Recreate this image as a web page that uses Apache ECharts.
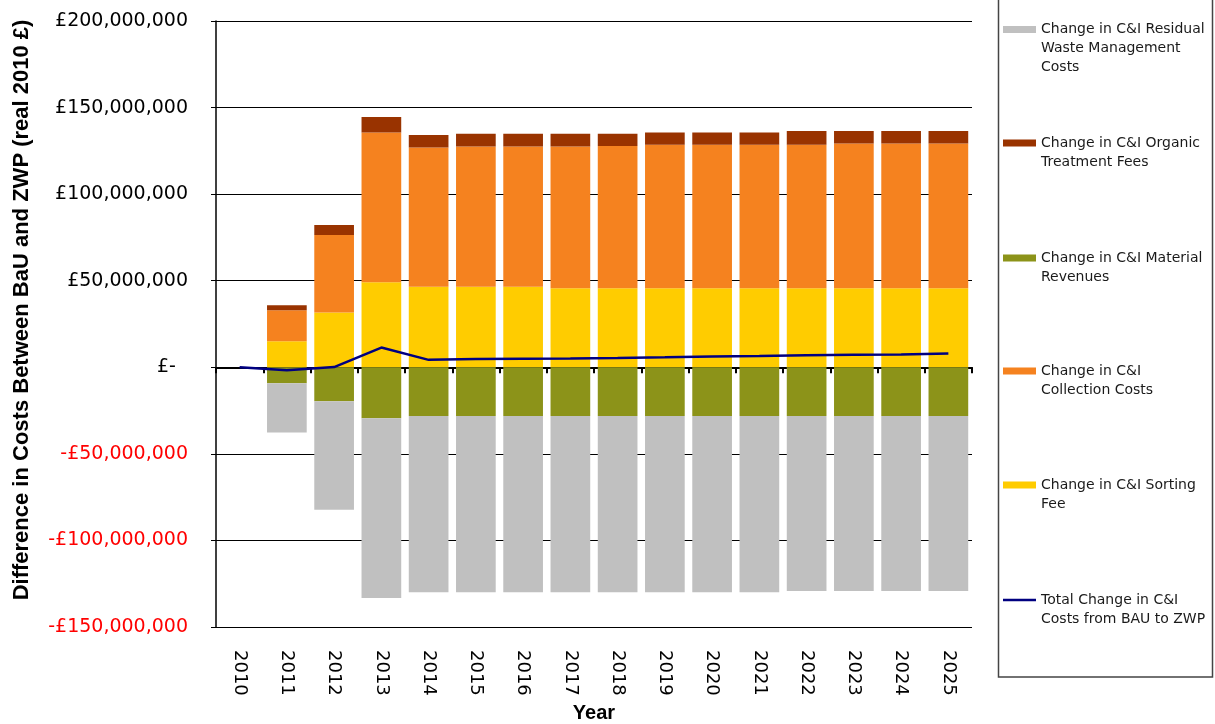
<!DOCTYPE html>
<html>
<head>
<meta charset="utf-8">
<script src="https://cdn.jsdelivr.net/npm/echarts@6/dist/echarts.min.js"></script>
<style>
  html, body { margin: 0; padding: 0; background: #ffffff; }
  #chart { width: 1215px; height: 724px; }
</style>
</head>
<body>
<div id="chart"></div>
<script>
// Years on the category axis
const years = ['2010', '2011', '2012', '2013', '2014', '2015', '2016', '2017',
               '2018', '2019', '2020', '2021', '2022', '2023', '2024', '2025'];

// Cost differences between BaU and ZWP, in £ million (real 2010 prices)
const sortingFee = [0, 15.1, 31.7, 49.1, 46.5, 46.5, 46.5, 45.6, 45.6, 45.6, 45.6, 45.6, 45.6, 45.6, 45.6, 45.6];
const collectionCosts = [0, 17.9, 44.7, 86.5, 80.5, 81.0, 81.0, 81.9, 82.2, 82.9, 82.9, 82.9, 82.9, 83.7, 83.7, 83.7];
const organicFees = [0, 2.9, 5.8, 9.0, 7.1, 7.4, 7.4, 7.4, 7.1, 7.1, 7.1, 7.1, 7.9, 7.1, 7.1, 7.1];
const materialRevenues = [0, -9.2, -19.6, -29.5, -28.1, -28.2, -28.2, -28.2, -28.2, -28.2, -28.2, -28.2, -28.2, -28.2, -28.2, -28.2];
const residualCosts = [0, -28.4, -62.7, -103.7, -101.8, -101.8, -101.8, -101.8, -101.8, -101.8, -101.8, -101.8, -101.0, -101.0, -101.0, -101.0];
const totalChange = [0, -1.7, 0.1, 11.4, 4.3, 4.8, 5.0, 5.1, 5.4, 5.8, 6.3, 6.5, 7.0, 7.2, 7.4, 8.0];

// Value axis ticks, £ million
const yMin = -150, yMax = 200, yStep = 50;

const names = {
  residual: 'Change in C&I Residual Waste Management Costs',
  organic: 'Change in C&I Organic Treatment Fees',
  material: 'Change in C&I Material Revenues',
  collection: 'Change in C&I Collection Costs',
  sorting: 'Change in C&I Sorting Fee',
  total: 'Total Change in C&I Costs from BAU to ZWP'
};
const legendText = {
  [names.residual]: 'Change in C&I Residual\nWaste Management\nCosts',
  [names.organic]: 'Change in C&I Organic\nTreatment Fees',
  [names.material]: 'Change in C&I Material\nRevenues',
  [names.collection]: 'Change in C&I\nCollection Costs',
  [names.sorting]: 'Change in C&I Sorting\nFee',
  [names.total]: 'Total Change in C&I\nCosts from BAU to ZWP'
};
const colors = {
  residual: '#C0C0C0',
  organic: '#993300',
  material: '#8C9319',
  collection: '#F5821F',
  sorting: '#FFCC00',
  total: '#000080'
};

const FONT = 'DejaVu Sans, Verdana, sans-serif';

function money(v) {
  if (v === 0) return '£-  ';
  const s = Math.round(Math.abs(v) * 1e6).toLocaleString('en-GB');
  return (v < 0 ? '-£' : '£') + s;
}

// One legend block per series so each key can sit at its own height.
// Blank lines before the text keep the symbol level with the first text line.
const LH = 19;
function legendBlock(name, centerY, isLine) {
  const n = legendText[name].split('\n').length;
  const blockH = (2 * n - 1) * LH;
  return {
    show: true,
    data: [{ name: name, icon: 'rect' }],
    left: 1003,
    top: centerY - blockH / 2,
    orient: 'vertical',
    padding: 0,
    itemWidth: 33,
    itemHeight: isLine ? 2.5 : 7,
    selectedMode: false,
    formatter: (nm) => '\n'.repeat(n - 1) + legendText[nm],
    textStyle: {
      fontFamily: FONT,
      fontSize: 14,
      lineHeight: LH,
      color: '#1a1a1a'
    }
  };
}

const barBase = {
  type: 'bar',
  stack: 'costs',
  barWidth: '84%',
  xAxisIndex: 0,
  yAxisIndex: 0,
  emphasis: { disabled: true }
};

const chart = echarts.init(document.getElementById('chart'), null, { renderer: 'canvas' });
chart.setOption({
  animation: false,
  backgroundColor: '#ffffff',
  grid: { left: 216, right: 243, top: 21, bottom: 97, containLabel: false, outerBoundsMode: 'none' },
  legend: [
    legendBlock(names.residual, 29.5, false),
    legendBlock(names.organic, 143, false),
    legendBlock(names.material, 258, false),
    legendBlock(names.collection, 371, false),
    legendBlock(names.sorting, 485, false),
    legendBlock(names.total, 600, true)
  ],
  graphic: [{
    type: 'rect',
    shape: { x: 998.5, y: -1, width: 214, height: 678 },
    style: { fill: 'none', stroke: '#444444', lineWidth: 1.5 },
    z: 0
  }],
  xAxis: [
    {
      type: 'category',
      data: years,
      position: 'bottom',
      axisLine: { show: false, onZero: false },
      axisTick: { show: false },
      splitLine: { show: false },
      axisLabel: {
        rotate: -90,
        margin: 23,
        fontFamily: FONT,
        fontSize: 18,
        color: '#000000'
      },
      name: 'Year',
      nameLocation: 'middle',
      nameGap: 73,
      nameTextStyle: {
        fontFamily: 'Liberation Sans, Arial, sans-serif',
        fontWeight: 'bold',
        fontSize: 20,
        color: '#000000'
      }
    },
    {
      type: 'category',
      data: years,
      position: 'bottom',
      axisLine: { show: true, onZero: true, lineStyle: { color: '#000000', width: 2 } },
      axisTick: { show: true, length: 6, lineStyle: { color: '#000000', width: 2 } },
      axisLabel: { show: false },
      splitLine: { show: false }
    }
  ],
  yAxis: {
    type: 'value',
    min: yMin,
    max: yMax,
    interval: yStep,
    axisLine: { show: true, lineStyle: { color: '#000000', width: 1.5 } },
    axisTick: { show: true, length: 5, lineStyle: { color: '#000000', width: 1 } },
    splitLine: { show: true, lineStyle: { color: '#000000', width: 1 } },
    axisLabel: {
      margin: 28,
      fontFamily: FONT,
      fontSize: 19,
      formatter: money,
      color: (v) => (Number(v) < 0 ? '#FF0000' : '#000000')
    },
    name: 'Difference in Costs Between BaU and ZWP (real 2010 £)',
    nameLocation: 'middle',
    nameGap: 183,
    nameTextStyle: {
      fontFamily: 'Liberation Sans, Arial, sans-serif',
      fontWeight: 'bold',
      fontSize: 22,
      color: '#000000',
      padding: [0, 0, 0, 28]
    }
  },
  series: [
    Object.assign({}, barBase, { name: names.sorting, data: sortingFee, itemStyle: { color: colors.sorting } }),
    Object.assign({}, barBase, { name: names.collection, data: collectionCosts, itemStyle: { color: colors.collection } }),
    Object.assign({}, barBase, { name: names.organic, data: organicFees, itemStyle: { color: colors.organic } }),
    Object.assign({}, barBase, { name: names.material, data: materialRevenues, itemStyle: { color: colors.material } }),
    Object.assign({}, barBase, { name: names.residual, data: residualCosts, itemStyle: { color: colors.residual } }),
    {
      type: 'line',
      name: names.total,
      data: totalChange,
      xAxisIndex: 0,
      yAxisIndex: 0,
      showSymbol: false,
      symbol: 'none',
      z: 5,
      lineStyle: { color: colors.total, width: 2.5 },
      itemStyle: { color: colors.total },
      emphasis: { disabled: true }
    }
  ]
});
</script>
</body>
</html>
